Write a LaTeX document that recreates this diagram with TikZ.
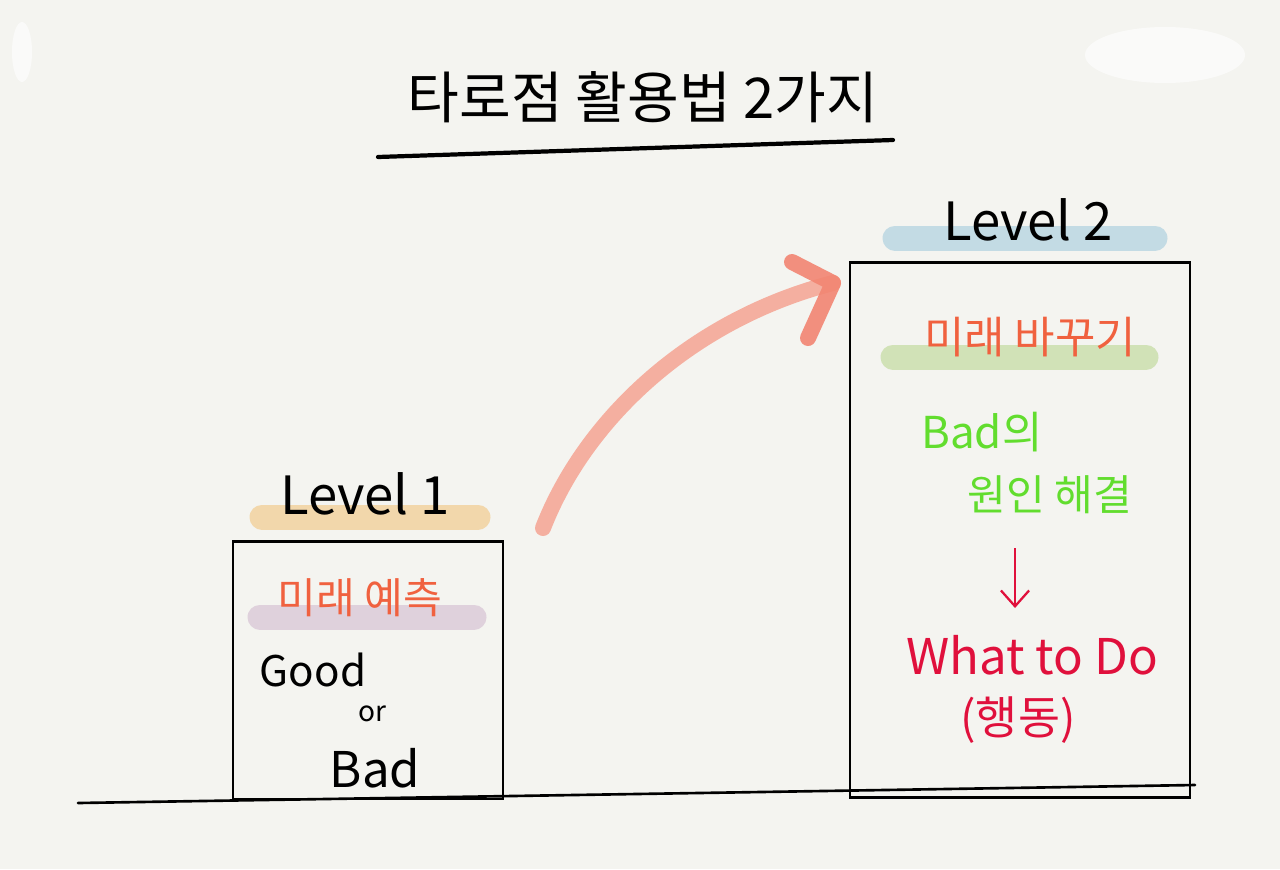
\documentclass[tikz,border=0pt]{standalone}
\usepackage{fontspec}
\setmainfont{Noto Sans CJK KR}
\usetikzlibrary{positioning, arrows.meta}
\definecolor{paper}{HTML}{F4F4F0}
\definecolor{peach}{HTML}{F2D3A0}
\definecolor{skyblue}{HTML}{BBD7E2}
\definecolor{lilac}{HTML}{DCCBD9}
\definecolor{leaf}{HTML}{CCDFAE}
\definecolor{coral}{HTML}{F0613F}
\definecolor{lime}{HTML}{62DD2E}
\definecolor{crimson}{HTML}{E0103C}
\definecolor{salmon}{HTML}{F5A898}
\definecolor{salmontip}{HTML}{F28572}
\newcommand{\fs}[1]{\fontsize{#1}{1.1\dimexpr#1pt\relax}\selectfont}
\tikzstyle{frame} = [
    rectangle,
    draw=black,
    line width=1.4pt,
    inner sep=0pt
]
\tikzstyle{marker} = [
    line width=0.5cm,
    line cap=round,
    opacity=0.85
]
\tikzstyle{label} = [
    inner sep=0pt,
    anchor=center
]
\tikzstyle{bigarrow} = [
    salmon,
    line width=0.32cm,
    line cap=round,
    line join=round,
    opacity=0.9
]
\begin{document}
\begin{tikzpicture}[x=0.02cm, y=-0.02cm]
\fill[paper] (0,0) rectangle (1280,869);
\useasboundingbox (0,0) rectangle (1280,869);

% erased smudges
\fill[white, opacity=0.6] (22,52) ellipse (10 and 30);
\fill[white, opacity=0.6] (1165,55) ellipse (80 and 28);

% title
\node (title) [label] at (643,97) {\fs{32}타로점 활용법 2가지};
\coordinate (ulA) at (378,157);
\coordinate (ulB) at (893,140);
\draw [line width=2.4pt, line cap=round] (ulA) -- (ulB);

% ground
\coordinate (groundL) at (78,803);
\coordinate (groundR) at (1195,785);
\draw [line width=1.5pt, line cap=round] (groundL) -- (groundR);

% level 1
\node (box1) [frame, minimum width=5.4cm, minimum height=5.15cm] at (368,670) {};
\draw [marker, peach] (262,517) -- (478,517);
\node (lvl1) [label] at (365,494) {\fs{30}Level 1};
\draw [marker, lilac] (260,617) -- (474,617);
\node (predict) [label, coral] at (360,598) {\fs{24}미래 예측};
\node (good) [label] at (313,670) {\fs{24}Good};
\node (or) [label] at (372,714) {\fs{16}or};
\node (bad) [label] at (375,768) {\fs{28}Bad};

% level 2
\node (box2) [frame, minimum width=6.8cm, minimum height=10.7cm] at (1020,530) {};
\draw [marker, skyblue] (895,238) -- (1155,238);
\node (lvl2) [label] at (1028,220) {\fs{30}Level 2};
\draw [marker, leaf] (893,357) -- (1146,357);
\node (change) [label, coral] at (1030,337) {\fs{25}미래 바꾸기};
\node (cause) [label, lime] at (982,432) {\fs{25}Bad의};
\node (solve) [label, lime] at (1050,495) {\fs{24}원인 해결};
\node (todo) [label, crimson] at (1032,655) {\fs{28}What to Do};
\node (act) [label, crimson] at (1018,720) {\fs{26}(행동)};
\coordinate (downA) at (1015,548);
\coordinate (downB) at (1015,608);
\draw [crimson, line width=1.3pt, -{Straight Barb[length=9pt, width=16pt]}] (downA) -- (downB);

% big arrow between levels
\coordinate (arrowStart) at (543,528);
\coordinate (arrowTip) at (833,283);
\coordinate (barbUp) at (792,262);
\coordinate (barbDown) at (808,338);
\draw [bigarrow] (arrowStart) .. controls (585,420) and (690,320) .. (arrowTip);
\draw [bigarrow, salmontip] (barbUp) -- (arrowTip) -- (barbDown);

\end{tikzpicture}
\end{document}
